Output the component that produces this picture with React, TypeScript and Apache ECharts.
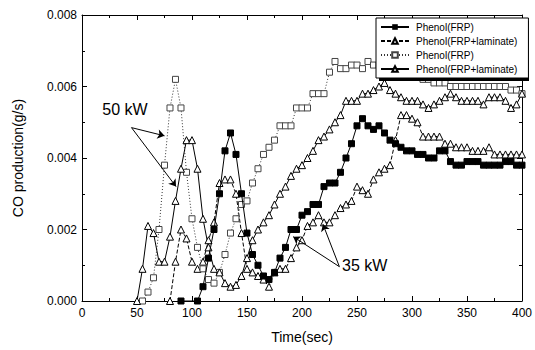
import React, { useEffect, useRef } from "react";
import * as echarts from "echarts";

const FONT = "'Liberation Sans', Arial, Helvetica, sans-serif";

// x-axis ticks (sec) and y-axis ticks (g/s)
const xTicks = [0, 50, 100, 150, 200, 250, 300, 350, 400];
const yTicks = [0, 0.002, 0.004, 0.006, 0.008];

// 35 kW, Phenol(FRP) — filled squares
const frp35: [number, number][] = [
  [90, 0], [105, 0], [110, 0.0004], [115, 0.0012], [120, 0.002], [125, 0.003], [130, 0.0042],
  [135, 0.0047], [140, 0.0041], [145, 0.003], [150, 0.0019], [155, 0.0013], [160, 0.001],
  [165, 0.0007], [170, 0.0006], [175, 0.0008], [180, 0.0012], [185, 0.0015], [190, 0.002],
  [195, 0.002], [200, 0.0024], [205, 0.0025], [210, 0.0027], [215, 0.0027], [220, 0.0032],
  [225, 0.0033], [230, 0.0033], [235, 0.0036], [240, 0.004], [245, 0.0044], [250, 0.0049],
  [255, 0.0051], [260, 0.0049], [265, 0.0048], [270, 0.0049], [275, 0.0047], [280, 0.0045],
  [285, 0.0044], [290, 0.0043], [295, 0.0042], [300, 0.0042], [305, 0.0041], [310, 0.0041],
  [315, 0.004], [320, 0.004], [325, 0.0042], [330, 0.0042], [335, 0.0039], [340, 0.0038],
  [345, 0.0038], [350, 0.0039], [355, 0.0039], [360, 0.0039], [365, 0.0038], [370, 0.0038],
  [375, 0.0038], [380, 0.0038], [385, 0.0039], [390, 0.0039], [395, 0.0038], [400, 0.0038],
];

// 35 kW, Phenol(FRP+laminate) — open triangles, dashed line
const lam35: [number, number][] = [
  [80, 0], [85, 0.0011], [90, 0.002], [95, 0.00175], [100, 0.0011], [105, 0.0009], [110, 0.0011],
  [115, 0.0017], [120, 0.0022], [125, 0.0033], [130, 0.0034], [135, 0.0034], [140, 0.003],
  [145, 0.0019], [150, 0.0009], [155, 0.0008], [160, 0.0007], [165, 0.0006], [170, 0.0004],
  [175, 0.0008], [180, 0.0009], [185, 0.0009], [190, 0.0012], [195, 0.0015], [200, 0.0017],
  [205, 0.0021], [210, 0.0022], [215, 0.0024], [220, 0.0022], [225, 0.0022], [230, 0.0024],
  [235, 0.0026], [240, 0.0027], [245, 0.0028], [250, 0.0032], [255, 0.0031], [260, 0.003],
  [265, 0.0034], [270, 0.0036], [275, 0.0037], [280, 0.0038], [285, 0.0045], [290, 0.0052],
  [295, 0.0052], [300, 0.0051], [305, 0.005], [310, 0.0046], [315, 0.0046], [320, 0.0046],
  [325, 0.0046], [330, 0.0044], [335, 0.0044], [340, 0.0043], [345, 0.0043], [350, 0.0043],
  [355, 0.0042], [360, 0.0042], [365, 0.0042], [370, 0.0043], [375, 0.0041], [380, 0.0041],
  [385, 0.0041], [390, 0.0041], [395, 0.0041], [400, 0.0041],
];

// 50 kW, Phenol(FRP) — open squares, dotted line
const frp50: [number, number][] = [
  [55, 0], [60, 0.00025], [65, 0.00065], [70, 0.002], [75, 0.0038], [80, 0.0054], [85, 0.0062],
  [90, 0.0054], [95, 0.0036], [100, 0.0023], [105, 0.0015], [110, 0.0009], [115, 0.0006],
  [120, 0.0005], [125, 0.0008], [130, 0.0013], [135, 0.0019], [140, 0.0023], [145, 0.0027],
  [150, 0.0028], [155, 0.0033], [160, 0.0037], [165, 0.0041], [170, 0.0043], [175, 0.0045],
  [180, 0.0049], [185, 0.0049], [190, 0.0049], [195, 0.0054], [200, 0.0054], [205, 0.0054],
  [210, 0.0058], [215, 0.0058], [220, 0.0058], [225, 0.0064], [230, 0.0067], [235, 0.0065],
  [240, 0.0065], [245, 0.0066], [250, 0.0066], [255, 0.0065], [260, 0.0067], [265, 0.0066],
  [270, 0.0066], [275, 0.0065], [280, 0.0066], [285, 0.0065], [290, 0.0065], [295, 0.0064],
  [300, 0.0063], [305, 0.0063], [310, 0.0062], [315, 0.0062], [320, 0.0061], [325, 0.0061],
  [330, 0.0061], [335, 0.006], [340, 0.006], [345, 0.006], [350, 0.006], [355, 0.006],
  [360, 0.006], [365, 0.006], [370, 0.006], [375, 0.006], [380, 0.006], [385, 0.006],
  [390, 0.0059], [395, 0.0059], [400, 0.0058],
];

// 50 kW, Phenol(FRP+laminate) — open triangles, solid line
const lam50: [number, number][] = [
  [50, 0], [55, 0.0009], [60, 0.0021], [65, 0.0019], [70, 0.0011], [75, 0.0011], [80, 0.0018],
  [85, 0.0028], [90, 0.0037], [95, 0.0045], [100, 0.0045], [105, 0.0037], [110, 0.0023],
  [115, 0.0015], [120, 0.0009], [125, 0.0008], [130, 0.0005], [135, 0.0004], [140, 0.00045],
  [145, 0.0007], [150, 0.0012], [155, 0.0017], [160, 0.002], [165, 0.0022], [170, 0.0024],
  [175, 0.0027], [180, 0.003], [185, 0.0032], [190, 0.0035], [195, 0.0037], [200, 0.0038],
  [205, 0.004], [210, 0.0042], [215, 0.0045], [220, 0.0046], [225, 0.0048], [230, 0.005],
  [235, 0.0052], [240, 0.0056], [245, 0.0056], [250, 0.0056], [255, 0.0058], [260, 0.0058],
  [265, 0.0059], [270, 0.006], [275, 0.0061], [280, 0.0059], [285, 0.0058], [290, 0.0057],
  [295, 0.0056], [300, 0.0056], [305, 0.0056], [310, 0.0055], [315, 0.0054], [320, 0.0055],
  [325, 0.0056], [330, 0.0057], [335, 0.0058], [340, 0.0057], [345, 0.0056], [350, 0.0056],
  [355, 0.0056], [360, 0.0056], [365, 0.0055], [370, 0.0057], [375, 0.0057], [380, 0.0057],
  [385, 0.0056], [390, 0.0054], [395, 0.0055], [400, 0.0058],
];

const seriesKeys = ["frp35", "lam35", "frp50", "lam50"];
const legendLabels = ["Phenol(FRP)", "Phenol(FRP+laminate)", "Phenol(FRP)", "Phenol(FRP+laminate)"];

// annotations (data coordinates)
const label50: [number, number] = [39, 0.00535];
const label35: [number, number] = [257, 0.001];
const arrows50: [number, number][][] = [
  [[45, 0.00485], [75, 0.00462]],
  [[45, 0.00485], [85.5, 0.0032]],
];
const arrows35: [number, number][][] = [
  [[234, 0.00096], [192, 0.0018]],
  [[234, 0.00096], [219, 0.00215]],
];

export default function App() {
  const ref = useRef<HTMLDivElement>(null);
  useEffect(() => {
    if (!ref.current) return;
    document.body.style.margin = "0";
    const chart = echarts.init(ref.current, undefined, { renderer: "svg" });
    const black = "#000";
    const axisCommon = {
      type: "value" as const,
      axisLine: { show: true, onZero: false, lineStyle: { color: black, width: 1 } },
      axisTick: { show: true, inside: true, length: 5, lineStyle: { color: black, width: 1 } },
      minorTick: { show: true, splitNumber: 2, length: 3, lineStyle: { color: black, width: 1 } },
      splitLine: { show: false },
    };
    const labelMap: Record<string, string> = {};
    seriesKeys.forEach((k, i) => (labelMap[k] = legendLabels[i]));

    const arrowData = [...arrows50, ...arrows35].map(([a, b]) => [
      { coord: a },
      { coord: b },
    ]);

    const option: any = {
      animation: false,
      textStyle: { fontFamily: FONT },
      grid: { left: 82, right: 9, top: 15, bottom: 49 },
      graphic: [
        {
          type: "rect",
          z: 9,
          left: 379,
          top: 21,
          shape: { width: 150, height: 60 },
          style: { fill: black },
          silent: true,
        },
      ],
      xAxis: [
        {
          ...axisCommon,
          min: xTicks[0],
          max: xTicks[xTicks.length - 1],
          interval: xTicks[1] - xTicks[0],
          axisLabel: { color: black, fontSize: 12, fontFamily: FONT, margin: 6 },
          name: "Time(sec)",
          nameLocation: "middle",
          nameGap: 29,
          nameTextStyle: { color: black, fontSize: 14, fontFamily: FONT },
        },
        {
          ...axisCommon,
          position: "top",
          min: xTicks[0],
          max: xTicks[xTicks.length - 1],
          interval: xTicks[1] - xTicks[0],
          axisLabel: { show: false },
        },
      ],
      yAxis: [
        {
          ...axisCommon,
          min: yTicks[0],
          max: yTicks[yTicks.length - 1],
          interval: yTicks[1] - yTicks[0],
          axisLabel: {
            color: black,
            fontSize: 12,
            fontFamily: FONT,
            margin: 5,
            formatter: (v: number) => v.toFixed(3),
          },
          name: "CO production(g/s)",
          nameLocation: "middle",
          nameGap: 57,
          nameTextStyle: { color: black, fontSize: 14, fontFamily: FONT },
        },
        {
          ...axisCommon,
          position: "right",
          min: yTicks[0],
          max: yTicks[yTicks.length - 1],
          interval: yTicks[1] - yTicks[0],
          axisLabel: { show: false },
        },
      ],
      legend: {
        orient: "vertical",
        left: 376,
        top: 18,
        z: 10,
        data: seriesKeys,
        formatter: (n: string) => labelMap[n],
        itemWidth: 28,
        itemHeight: 7,
        itemGap: 4,
        padding: [4, 11, 4, 4],
        backgroundColor: "#fff",
        borderColor: black,
        borderWidth: 1,
        textStyle: { color: black, fontSize: 10, fontFamily: FONT, padding: [0, 0, 0, 2] },
        selectedMode: false,
      },
      series: [
        {
          name: "frp35",
          type: "line",
          data: frp35,
          symbol: "rect",
          symbolSize: 6,
          z: 3,
          lineStyle: { color: black, width: 1 },
          itemStyle: { color: black, borderColor: black },
          markLine: {
            silent: true,
            symbol: ["none", "arrow"],
            symbolSize: 7,
            lineStyle: { color: black, width: 1, type: "solid" },
            label: { show: false },
            emphasis: { disabled: true },
            data: arrowData,
          },
          markPoint: {
            silent: true,
            symbol: "circle",
            symbolSize: 0,
            label: {
              show: true,
              position: "inside",
              color: black,
              fontSize: 16,
              fontFamily: FONT,
            },
            data: [
              { coord: label50, value: "50 kW", label: { formatter: "50 kW" } },
              { coord: label35, value: "35 kW", label: { formatter: "35 kW" } },
            ],
          },
        },
        {
          name: "lam35",
          type: "line",
          data: lam35,
          symbol: "triangle",
          symbolSize: 7,
          z: 2,
          lineStyle: { color: black, width: 1, type: [4, 2] },
          itemStyle: { color: "#fff", borderColor: black, borderWidth: 1 },
        },
        {
          name: "frp50",
          type: "line",
          data: frp50,
          symbol: "rect",
          symbolSize: 6,
          z: 2,
          lineStyle: { color: "#333", width: 1, type: [1, 2] },
          itemStyle: { color: "#fff", borderColor: "#444", borderWidth: 1 },
        },
        {
          name: "lam50",
          type: "line",
          data: lam50,
          symbol: "triangle",
          symbolSize: 7,
          z: 2,
          lineStyle: { color: black, width: 1 },
          itemStyle: { color: "#fff", borderColor: black, borderWidth: 1 },
        },
      ],
    };
    chart.setOption(option);
    return () => chart.dispose();
  }, []);
  return <div ref={ref} style={{ width: 535, height: 350 }} />;
}
